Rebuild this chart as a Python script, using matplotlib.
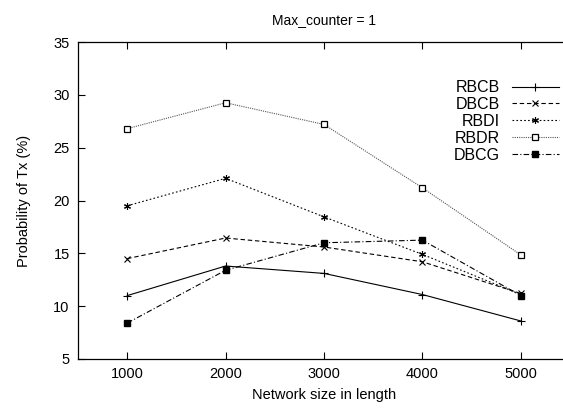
import matplotlib
matplotlib.use("Agg")
import matplotlib.pyplot as plt

plt.rcParams['font.family'] = ['Liberation Sans', 'DejaVu Sans']

sizes = [1000, 2000, 3000, 4000, 5000]
rbcb = [11.0, 13.8, 13.1, 11.1, 8.6]
dbcb = [14.5, 16.45, 15.6, 14.2, 11.2]
rbdi = [19.5, 22.1, 18.45, 14.9, 11.1]
rbdr = [26.8, 29.25, 27.2, 21.2, 14.85]
dbcg = [8.4, 13.4, 16.0, 16.25, 11.0]

series = [
    ("RBCB", rbcb, dict(color="black", linestyle="-", marker="+", ms=6, mew=0.8)),
    ("DBCB", dbcb, dict(color="black", linestyle=(0, (4, 2.5)), marker="x", ms=4.5, mew=0.8)),
    ("RBDI", rbdi, dict(color="black", linestyle=(0, (1.5, 2)), marker=(6, 2, 0), ms=5, mew=0.8)),
    ("RBDR", rbdr, dict(color="#555555", linestyle=(0, (1, 1)), marker="s", ms=4, mew=0.9,
                        mfc="white", mec="black")),
    ("DBCG", dbcg, dict(color="black", linestyle=(0, (5, 2, 1, 2)), marker="s", ms=4.5,
                        mfc="black", mec="black")),
]

fig = plt.figure(figsize=(5.63, 4.08), dpi=100)
# the right edge of the frame falls outside the picture, as in the original
ax = fig.add_axes([78 / 563, 1 - 359 / 408, (570 - 78) / 563, (359 - 42) / 408])

for name, vals, style in series:
    ax.plot(sizes, vals, label=name, linewidth=0.8, **style)

ax.set_xlim(500, 5500)
ax.set_ylim(5, 35)
ax.set_xticks(sizes)
ax.set_yticks(range(5, 36, 5))
ax.tick_params(direction="in", top=True, right=True, length=5, width=0.8, labelsize=10.5, pad=6)
for s in ax.spines.values():
    s.set_linewidth(0.9)

ax.set_title("Max_counter = 1", fontsize=10, pad=13)
ax.set_xlabel("Network size in length", fontsize=10.5, labelpad=5)
ax.set_ylabel("Probability of Tx (%)", fontsize=10.5, labelpad=16)

leg = ax.legend(loc="upper right", bbox_to_anchor=(0.998, 0.91), frameon=False,
                markerfirst=False, fontsize=11.5, handlelength=3.0,
                labelspacing=0.12, handletextpad=0.7, borderaxespad=0.2)

fig.savefig("out.png", dpi=100)
